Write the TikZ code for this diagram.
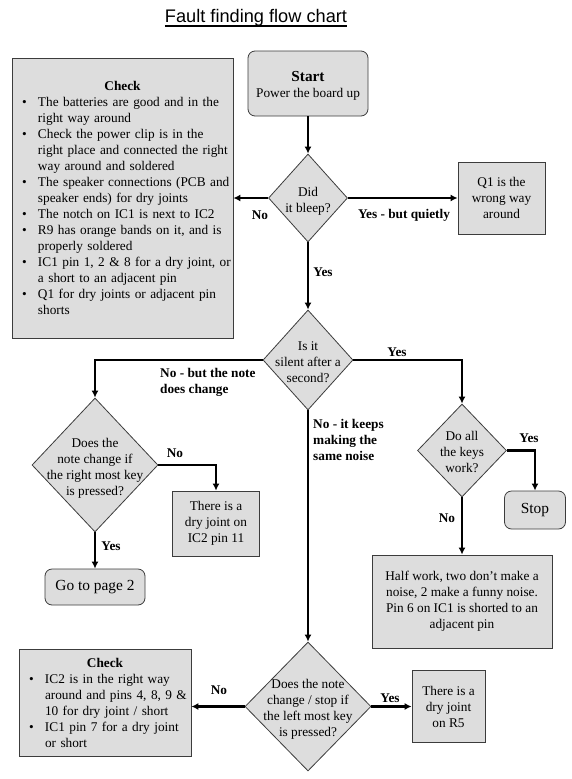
\documentclass[tikz,border=0pt]{standalone}
\usepackage{fontspec}
\setmainfont{Liberation Serif}
\newfontfamily\headfont{Liberation Sans}
\usetikzlibrary{shapes.geometric,arrows.meta}
\definecolor{boxgrey}{RGB}{221,221,221}
\definecolor{edgegrey}{RGB}{60,60,60}
\newcommand{\asktext}[1]{\makebox[0pt]{\smash{\raisebox{-6.5pt}{\begin{tabular}{@{}c@{}}#1\end{tabular}}}}}
\newcommand{\dotline}{\par\noindent\hangindent=16pt\hangafter=1\makebox[16pt][l]{\textbullet}}

\begin{document}
\begin{tikzpicture}[x=1pt,y=-1pt,
  every node/.style={font=\fontsize{13.3}{16}\selectfont},
  box/.style={draw=edgegrey,line width=0.8pt,fill=boxgrey,align=center,inner sep=0pt},
  endbox/.style={box,rounded corners=7pt},
  ask/.style={diamond,draw=edgegrey,line width=0.8pt,fill=boxgrey,inner sep=0pt},
  link/.style={line width=2.4pt,-{Latex[length=7pt,width=7pt]}},
  tag/.style={font=\fontsize{13.3}{16}\selectfont\bfseries,inner sep=0pt,align=left}]
  \useasboundingbox (0,0) rectangle (572,779);
  \node [anchor=base,inner sep=0pt,font=\headfont\fontsize{18.2}{20}\selectfont] (title) at (256,23) {Fault finding flow chart};
  \draw [line width=1.4pt] ([yshift=-3pt]title.base west) -- ([yshift=-3pt]title.base east);

  \node [endbox,minimum width=120pt,minimum height=65pt] (start) at (308,83.5) {\rule{0pt}{14pt}{\fontsize{15.3}{16}\selectfont\bfseries Start}\\Power the board up};
  \node [box,minimum width=221pt,minimum height=280pt,text width=201pt,inner xsep=10pt] (checkA) at (122.5,198) {%
    {\centering\bfseries Check\par}\raggedright\rightskip=-9pt plus 1fil
    \dotline The batteries are good and in the\newline right way around
    \dotline Check the power clip is in the\newline right place and connected the right\newline way around and soldered
    \dotline The speaker connections (PCB and\newline speaker ends) for dry joints
    \dotline The notch on IC1 is next to IC2
    \dotline R9 has orange bands on it, and is\newline properly soldered
    \dotline IC1 pin 1, 2 \& 8 for a dry joint, or\newline a short to an adjacent pin
    \dotline Q1 for dry joints or adjacent pin\newline shorts\par};
  \node [ask,minimum width=79pt,minimum height=88pt] (bleep) at (308,198) {\asktext{Did\\it bleep?}};
  \node [box,minimum width=87pt,minimum height=72pt] (wrongway) at (501.5,198) {Q1 is the\\wrong way\\around};
  \node [ask,minimum width=90pt,minimum height=100pt] (silent) at (308,360) {\asktext{Is it\\silent after a\\second?}};
  \node [ask,minimum width=89pt,minimum height=93pt] (keys) at (462,450.5) {\asktext{Do all\\the keys\\work?}};
  \node [endbox,minimum width=61pt,minimum height=38pt,font=\fontsize{15.4}{18}\selectfont] (stop) at (535,510) {Stop};
  \node [box,minimum width=180pt,minimum height=93pt] (halfwork) at (462,601.5) {Half work, two don’t make a\\noise, 2 make a funny noise.\\Pin 6 on IC1 is shorted to an\\adjacent pin};
  \node [ask,minimum width=126pt,minimum height=134pt] (rightkey) at (95,465) {\asktext{Does the\\note change if\\the right most key\\is pressed?}};
  \node [box,minimum width=87pt,minimum height=65pt] (pinB) at (216,523.5) {There is a\\dry joint on\\IC2 pin 11};
  \node [endbox,minimum width=100pt,minimum height=36pt,font=\fontsize{15.4}{18}\selectfont] (pagetwo) at (95,587) {Go to page 2};
  \node [ask,minimum width=126pt,minimum height=129pt] (leftkey) at (308,706.5) {\asktext{Does the note\\change / stop if\\the left most key\\is pressed?}};
  \node [box,minimum width=73pt,minimum height=72pt] (resB) at (448.5,706.5) {There is a\\dry joint\\on R5};
  \node [box,minimum width=172pt,minimum height=107pt,text width=152pt,inner xsep=10pt] (checkB) at (105,703) {%
    {\centering\bfseries Check\par}\raggedright\rightskip=-9pt plus 1fil
    \dotline IC2 is in the right way\newline around and pins 4, 8, 9 \&\newline 10 for dry joint / short
    \dotline IC1 pin 7 for a dry joint\newline or short\par};

  \draw [link] (start) -- (bleep);
  \draw [link] (bleep.west) -- (checkA.east);
  \draw [link] (bleep.east) -- (wrongway.west);
  \draw [link] (bleep.south) -- (silent.north);
  \draw [link] (silent.east) -| (keys.north);
  \draw [link] (keys.east) -| (stop.north);
  \draw [link] (keys.south) -- (halfwork.north);
  \draw [link] (silent.west) -| (rightkey.north);
  \draw [link] (rightkey.east) -| (pinB.north);
  \draw [link] (rightkey.south) -- (pagetwo.north);
  \draw [link] (silent.south) -- (leftkey.north);
  \draw [link] (leftkey.west) -- (leftkey.west -| checkB.east);
  \draw [link] (leftkey.east) -- (resB.west);

  \node [tag] (noA) at (260,215) {No};
  \node [tag] (quiet) at (404,215) {Yes - but quietly};
  \node [tag] (yesA) at (323,272) {Yes};
  \node [tag] (yesB) at (397,352) {Yes};
  \node [tag] (yesC) at (529,438) {Yes};
  \node [tag] (noB) at (447,518) {No};
  \node [tag,anchor=west] (noC) at (160,382) {No - but the note\\does change};
  \node [tag] (noD) at (175,453) {No};
  \node [tag] (yesD) at (111,546) {Yes};
  \node [tag,anchor=west] (noE) at (313,440) {No - it keeps\\making the\\same noise};
  \node [tag] (noF) at (219,690) {No};
  \node [tag] (yesE) at (390,698) {Yes};
\end{tikzpicture}
\end{document}
